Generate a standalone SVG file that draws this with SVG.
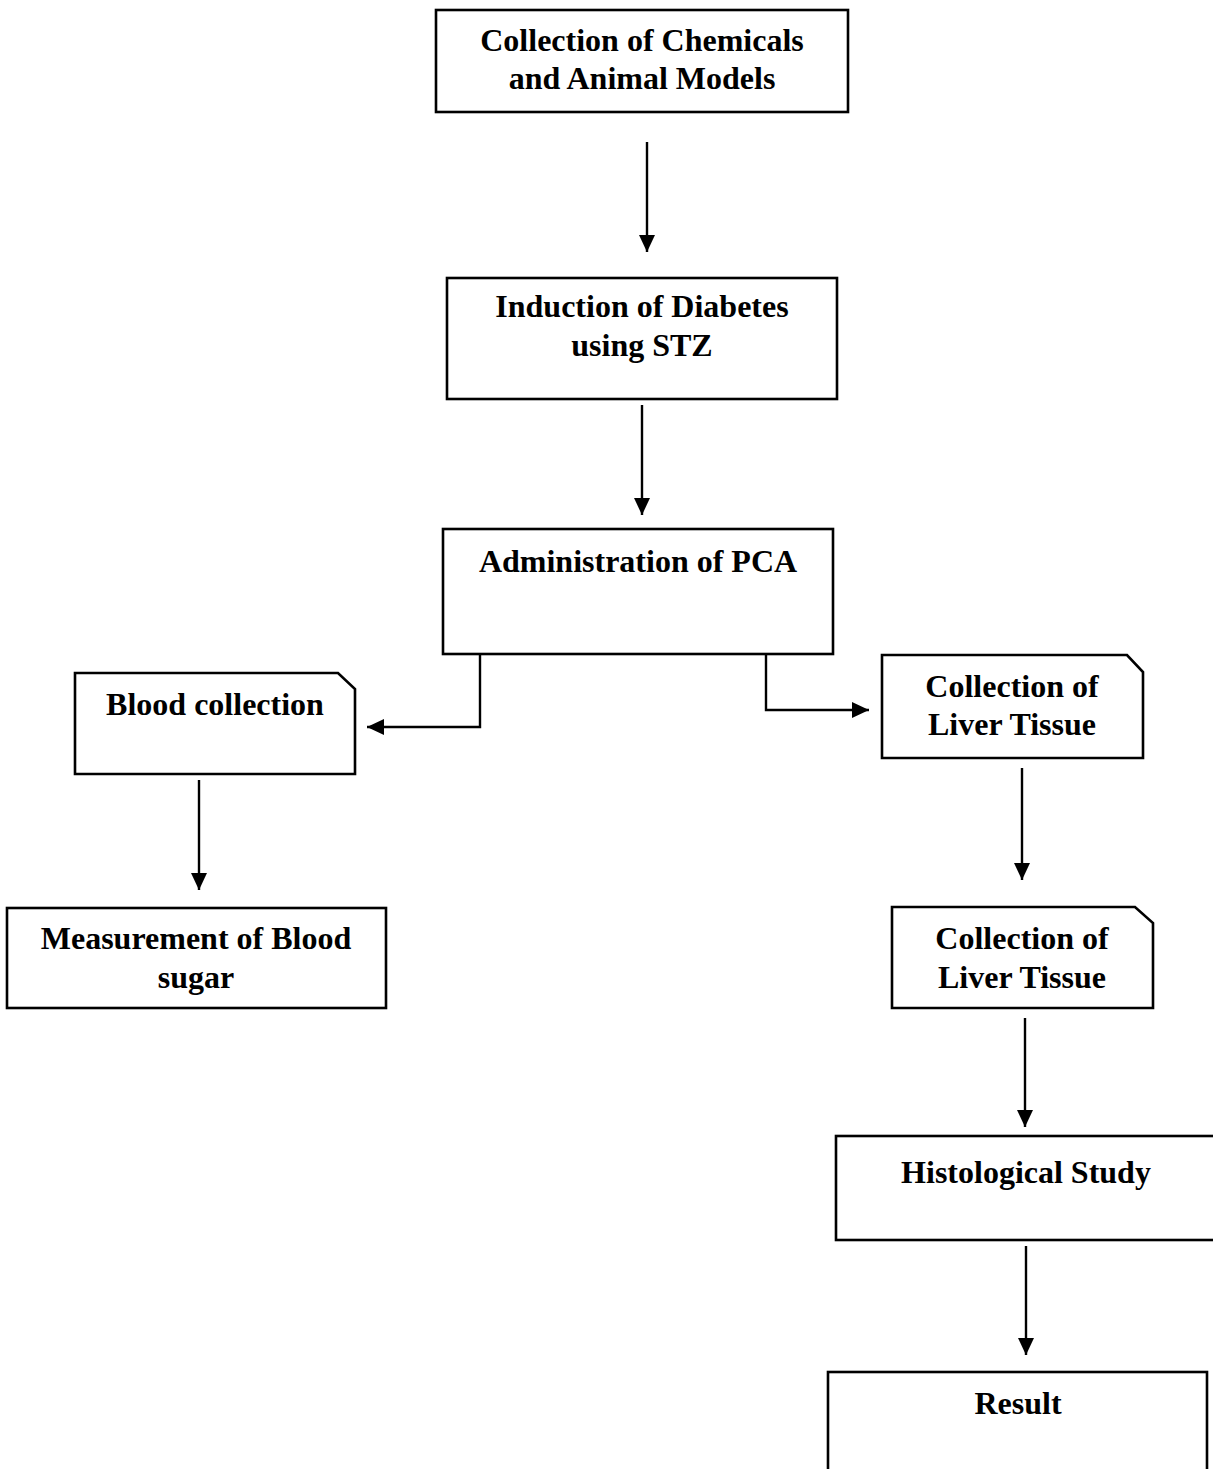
<svg xmlns="http://www.w3.org/2000/svg" width="1213" height="1469" viewBox="0 0 1213 1469">
<style>
.box{fill:#fff;stroke:#000;stroke-width:2.6}
.t{font-family:"Liberation Serif","Times New Roman",serif;font-weight:bold;font-size:32px;fill:#000;text-anchor:middle}
.c{fill:none;stroke:#000;stroke-width:2.4}
</style>
<defs>
<marker id="ah" viewBox="0 0 17 16" refX="17" refY="8" markerWidth="17" markerHeight="16" markerUnits="userSpaceOnUse" orient="auto">
<path d="M0,0 L17,8 L0,16 z" fill="#000"/>
</marker>
</defs>
<rect width="1213" height="1469" fill="#fff"/>
<g id="connectors">
<line class="c" x1="647" y1="142" x2="647" y2="252" marker-end="url(#ah)"/>
<line class="c" x1="642" y1="405" x2="642" y2="515" marker-end="url(#ah)"/>
<polyline class="c" points="480,654 480,727 367,727" marker-end="url(#ah)"/>
<polyline class="c" points="766,654 766,710 869,710" marker-end="url(#ah)"/>
<line class="c" x1="199" y1="780" x2="199" y2="890" marker-end="url(#ah)"/>
<line class="c" x1="1022" y1="768" x2="1022" y2="880" marker-end="url(#ah)"/>
<line class="c" x1="1025" y1="1018" x2="1025" y2="1127" marker-end="url(#ah)"/>
<line class="c" x1="1026" y1="1246" x2="1026" y2="1355" marker-end="url(#ah)"/>
</g>
<g id="n1">
<rect class="box" x="436" y="10" width="412" height="102"/>
<text class="t" x="642" y="51">Collection of Chemicals</text>
<text class="t" x="642" y="89">and Animal Models</text>
</g>
<g id="n2">
<rect class="box" x="447" y="278" width="390" height="121"/>
<text class="t" x="642" y="317">Induction of Diabetes</text>
<text class="t" x="642" y="356">using STZ</text>
</g>
<g id="n3">
<rect class="box" x="443" y="529" width="390" height="125"/>
<text class="t" x="638" y="572">Administration of PCA</text>
</g>
<g id="n4">
<path class="box" d="M75,673 H338 L355,689 V774 H75 Z"/>
<text class="t" x="215" y="715">Blood collection</text>
</g>
<g id="n5">
<path class="box" d="M882,655 H1127 L1143,672 V758 H882 Z"/>
<text class="t" x="1012" y="697">Collection of</text>
<text class="t" x="1012" y="735">Liver Tissue</text>
</g>
<g id="n6">
<rect class="box" x="7" y="908" width="379" height="100"/>
<text class="t" x="196" y="949">Measurement of Blood</text>
<text class="t" x="196" y="988">sugar</text>
</g>
<g id="n7">
<path class="box" d="M892,907 H1135 L1153,923 V1008 H892 Z"/>
<text class="t" x="1022" y="949">Collection of</text>
<text class="t" x="1022" y="988">Liver Tissue</text>
</g>
<g id="n8">
<rect class="box" x="836" y="1136" width="380" height="104"/>
<text class="t" x="1026" y="1183">Histological Study</text>
</g>
<g id="n9">
<rect class="box" x="828" y="1372" width="379" height="110"/>
<text class="t" x="1018" y="1414">Result</text>
</g>
</svg>
